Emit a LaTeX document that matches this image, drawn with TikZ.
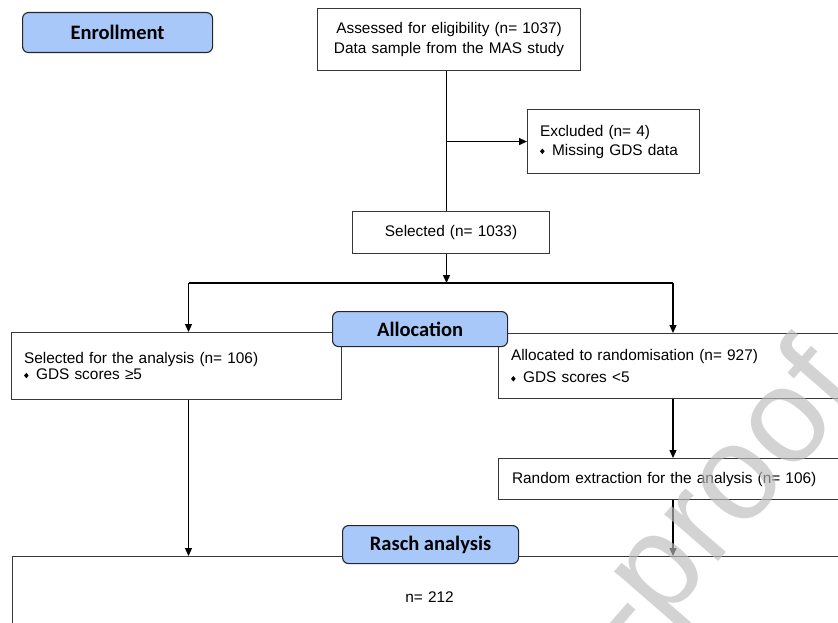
\documentclass[tikz,border=0pt]{standalone}
\usepackage{fontspec}
\setmainfont{Liberation Sans}
\newfontfamily\calb{Carlito}
\usetikzlibrary{arrows.meta}
\definecolor{lblue}{RGB}{168,200,250}
\definecolor{bord}{RGB}{55,55,55}
\definecolor{wmark}{RGB}{188,188,188}
\newcommand\bul{\tikz[baseline=0pt]{\fill[black] (0pt,3.75pt)--(2.3pt,6.5pt)--(4.6pt,3.75pt)--(2.3pt,1pt)--cycle;}\hspace{7.4pt}}
\tikzset{
  box/.style={draw=bord, line width=1.1pt, rectangle, anchor=north west,
    inner xsep=12.5pt, inner ysep=0pt, align=left},
  txt/.style={font=\fontsize{15.4}{#1}\selectfont},
  lbl/.style={draw=black!85, line width=1.1pt, rounded corners=6pt, fill=lblue,
    anchor=north west, inner sep=0pt,
    font=\calb\bfseries\fontsize{20.5}{24}\selectfont},
  arr/.style={line width=1.3pt, -{Triangle[length=8pt,width=7pt]}},
  ln/.style={line width=1.3pt},
}
\begin{document}
\begin{tikzpicture}[x=1pt,y=-1pt]
\useasboundingbox (0,0) rectangle (838,623);
\clip (0,0) rectangle (838,623);
\fill[white] (0,0) rectangle (838,623);

% boxes
\node[box, txt=20, align=center, text width=238pt, minimum height=62pt] (assess) at (317,8)
  {Assessed for eligibility (n= 1037)\\Data sample from the MAS study};
\node[box, txt=19, text width=147pt, minimum height=64pt] (excl) at (527,109)
  {Excluded (n= 4)\\\bul Missing GDS data};
\node[box, txt=19, align=center, text width=172pt, minimum height=42pt] (sel) at (352,211)
  {Selected (n= 1033)};
\node[box, txt=15.5, text width=305pt, minimum height=67pt] (left) at (11,332)
  {Selected for the analysis (n= 106)\\\bul GDS scores \mbox{≥5}};
\node[box, txt=22, text width=337pt, minimum height=65pt] (right) at (498,333)
  {Allocated to randomisation (n= 927)\\\bul GDS scores <5};
\node[box, txt=19, text width=337pt, minimum height=41pt, inner xsep=13.5pt] (rand) at (498,458)
  {Random extraction for the analysis (n= 106)};
\node[box, txt=19, align=center, text width=809pt, minimum height=81pt] (rasch) at (12,556)
  {n= 212};

% connectors
\coordinate (split) at (446.5,283);
\coordinate (lcol) at (188.5,283);
\coordinate (rcol) at (673,283);
\draw[ln] (split |- assess.south) -- (split |- sel.north);
\draw[arr] (split |- excl.west) -- (excl.west);
\draw[arr] (split |- sel.south) -- (split);
\draw[ln] (lcol) -- (rcol);
\draw[arr] (lcol) -- (lcol |- left.north);
\draw[arr] (rcol) -- (rcol |- right.north);
\draw[arr] (rcol |- right.south) -- (rcol |- rand.north);
\draw[arr] (rcol |- rand.south) -- (rcol |- rasch.north);
\draw[arr] (lcol |- left.south) -- (lcol |- rasch.north);

% stage labels
\node[lbl, minimum width=190pt, minimum height=40pt] (enroll) at (22,12) {Enrollment};
\node[lbl, minimum width=175pt, minimum height=35pt] (alloc) at (332,311) {Allocation};
\node[lbl, minimum width=176pt, minimum height=38pt] (raschlbl) at (342,525) {Rasch analysis};

% watermark
\node[rotate=49, anchor=base east, inner sep=0pt, text=wmark, opacity=0.65,
  font=\fontsize{135}{135}\selectfont] (wm) at (864.8,392.7) {-proof};
\end{tikzpicture}
\end{document}
